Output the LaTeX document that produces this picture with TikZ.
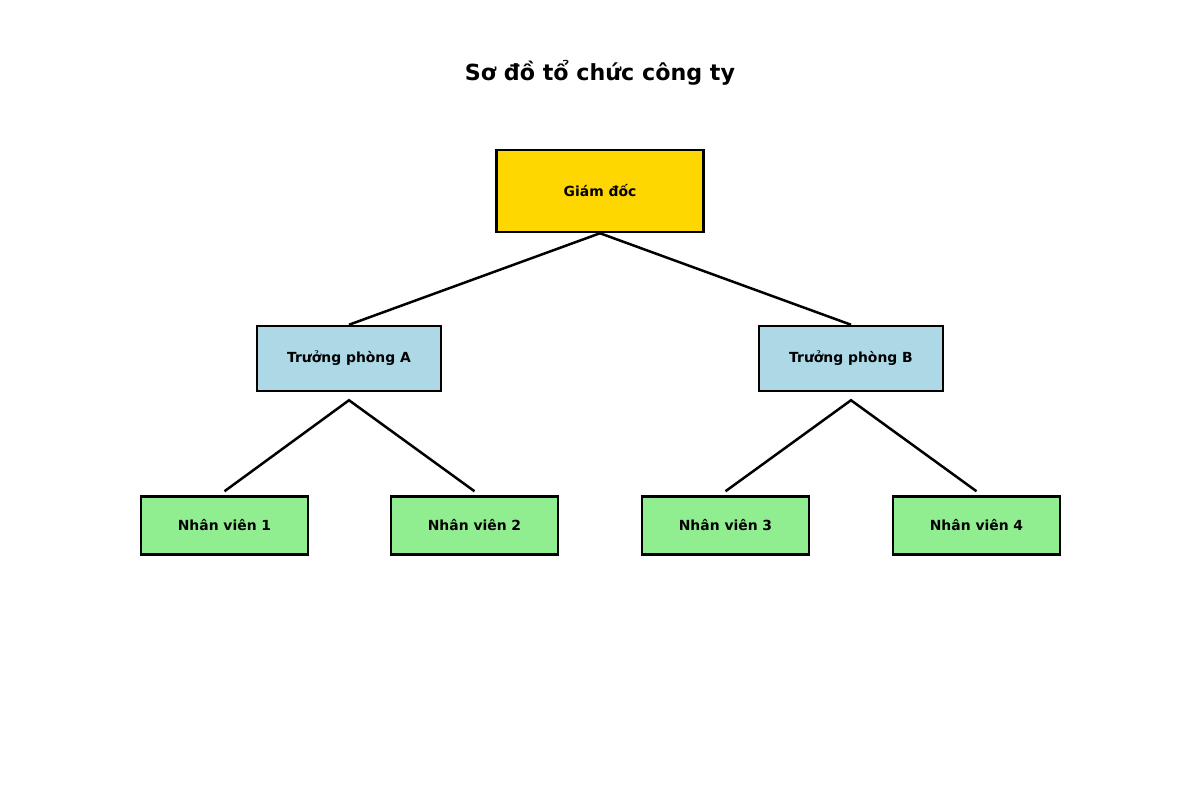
\documentclass[tikz,border=0pt]{standalone}
\usepackage{fontspec}
\setmainfont{DejaVu Sans}
\begin{document}
\begin{tikzpicture}[x=1pt,y=-1pt,
  box/.style={draw=black,line width=2.5pt,inner sep=0pt,anchor=center,
    font=\fontsize{13.9}{16}\selectfont\bfseries},
  topbox/.style={box,fill={rgb,255:red,255;green,215;blue,0},minimum width=207pt,minimum height=82pt},
  midbox/.style={box,fill={rgb,255:red,173;green,216;blue,230},minimum width=184pt,minimum height=65pt},
  lowbox/.style={box,fill={rgb,255:red,144;green,238;blue,144},minimum width=167pt,minimum height=58pt},
  link/.style={line width=2.5pt,draw=black}]
\useasboundingbox (0,0) rectangle (1200,800);
\node[font=\fontsize{22.2}{26}\selectfont\bfseries] (title) at (600,73) {Sơ đồ tổ chức công ty};
\node[topbox] (g) at (600,191) {Giám đốc};
\node[midbox] (a) at (349,358.5) {Trưởng phòng A};
\node[midbox] (b) at (851,358.5) {Trưởng phòng B};
\node[lowbox] (n1) at (224.5,525.5) {Nhân viên 1};
\node[lowbox] (n2) at (474.5,525.5) {Nhân viên 2};
\node[lowbox] (n3) at (725.5,525.5) {Nhân viên 3};
\node[lowbox] (n4) at (976.5,525.5) {Nhân viên 4};
\coordinate (ao) at ([yshift=-8pt]a.south);
\coordinate (bo) at ([yshift=-8pt]b.south);
\coordinate (n1i) at ([yshift=4pt]n1.north);
\coordinate (n2i) at ([yshift=4pt]n2.north);
\coordinate (n3i) at ([yshift=4pt]n3.north);
\coordinate (n4i) at ([yshift=4pt]n4.north);
\draw[link] (a.north) -- (g.south) -- (b.north);
\draw[link] (n1i) -- (ao) -- (n2i);
\draw[link] (n3i) -- (bo) -- (n4i);
\end{tikzpicture}
\end{document}
